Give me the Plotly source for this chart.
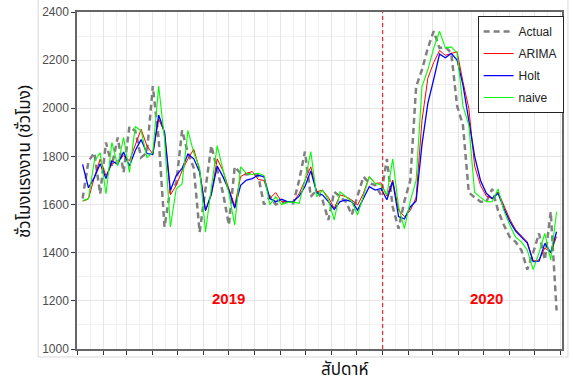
import pandas as pd
import plotly.graph_objects as go

# Weekly labour hours, Jan 2019 - Jul 2020
week_start = "2019-01-07"
n_weeks = 82

actual = [
    1625, 1780, 1815, 1644, 1858, 1761, 1879, 1734, 1924, 1906,
    1796, 1816, 2092, 1872, 1507, 1665, 1687, 1908, 1815, 1752,
    1485, 1670, 1845, 1744, 1647, 1515, 1757, 1730, 1725, 1730,
    1720, 1600, 1633, 1600, 1610, 1610, 1605, 1700, 1820, 1633,
    1660, 1619, 1536, 1653, 1633, 1612, 1557, 1640, 1716, 1688,
    1681, 1640, 1790, 1590, 1500, 1615, 1700, 2090, 2160, 2250,
    2320, 2250, 2255, 2230, 2010, 1930, 1650, 1630, 1612, 1612,
    1665, 1575, 1515, 1465, 1445, 1410, 1330, 1400, 1480, 1370,
    1570, 1160,
]

arima = [
    1614, 1623, 1713, 1789, 1720, 1768, 1782, 1803, 1782, 1851,
    1913, 1844, 1810, 1955, 1900, 1640, 1680, 1740, 1790, 1830,
    1744, 1575, 1640, 1790, 1740, 1665, 1595, 1716, 1730, 1737,
    1705, 1700, 1625, 1650, 1612, 1612, 1612, 1645, 1700, 1757,
    1653, 1660, 1630, 1584, 1640, 1633, 1619, 1598, 1647, 1716,
    1688, 1690, 1635, 1702, 1577, 1550, 1575, 1630, 1950, 2125,
    2190, 2240, 2220, 2228, 2235, 2110, 2000, 1760, 1680, 1635,
    1625, 1653, 1598, 1540, 1495, 1468, 1445, 1365, 1370, 1420,
    1400, 1467,
]

holt = [
    1767, 1670, 1712, 1770, 1708, 1780, 1768, 1818, 1760, 1825,
    1870, 1812, 1808, 1972, 1900, 1660, 1720, 1750, 1810, 1790,
    1735, 1575, 1645, 1760, 1715, 1660, 1585, 1680, 1702, 1708,
    1722, 1715, 1625, 1612, 1622, 1612, 1612, 1635, 1675, 1740,
    1650, 1640, 1612, 1580, 1612, 1619, 1612, 1577, 1626, 1674,
    1660, 1667, 1620, 1695, 1550, 1540, 1590, 1615, 1850, 2020,
    2120, 2225, 2210, 2228, 2200, 2097, 1950, 1800, 1700, 1647,
    1625, 1647, 1584, 1530, 1490, 1465, 1440, 1363, 1365, 1439,
    1400, 1487,
]

naive = [
    1616, 1625, 1780, 1815, 1644, 1858, 1761, 1879, 1734, 1924,
    1906, 1796, 1816, 2092, 1872, 1507, 1665, 1687, 1908, 1815,
    1752, 1485, 1670, 1845, 1744, 1647, 1515, 1757, 1730, 1725,
    1730, 1720, 1600, 1633, 1600, 1610, 1610, 1605, 1700, 1820,
    1633, 1660, 1619, 1536, 1653, 1633, 1612, 1557, 1640, 1716,
    1688, 1681, 1640, 1790, 1590, 1500, 1615, 1700, 2090, 2160,
    2250, 2320, 2250, 2255, 2230, 2010, 1930, 1650, 1630, 1612,
    1612, 1665, 1575, 1515, 1465, 1445, 1410, 1330, 1400, 1480,
    1370, 1570,
]

y_ticks = [1000, 1200, 1400, 1600, 1800, 2000, 2200, 2400]
year_labels = ["2019", "2020"]
year_label_pos = ["2019-06-30", "2020-05-04"]
year_break = "2020-01-01"

weeks = pd.date_range(week_start, periods=n_weeks, freq="7D")

series = [
    ("Actual", actual, dict(color="#808080", width=2.5, dash="6px,4px")),
    ("ARIMA", arima, dict(color="#ff0000", width=1)),
    ("Holt", holt, dict(color="#0000ff", width=1.3)),
    ("naive", naive, dict(color="#00ff00", width=1.1)),
]

fig = go.Figure()
for name, vals, line in series:
    fig.add_trace(go.Scatter(
        x=weeks, y=vals, mode="lines", name=name, line=line,
        legendgroup=name,
    ))

base_font = "Arial, Liberation Sans, sans-serif"
thai_font = "Tahoma, Noto Sans Thai, Noto Sans, DejaVu Sans, sans-serif"

fig.update_layout(
    width=573, height=382,
    margin=dict(l=77, r=9, t=12, b=33),
    paper_bgcolor="white", plot_bgcolor="white",
    font=dict(family=base_font, size=12, color="black"),
    showlegend=True,
    legend=dict(
        x=0.826, y=0.988, xanchor="left", yanchor="top",
        bgcolor="white", bordercolor="#222222", borderwidth=1,
        font=dict(family=base_font, size=12, color="#222222"),
        tracegroupgap=3,
    ),
    xaxis=dict(
        type="date", automargin=False,
        range=["2018-12-31 07:00", "2020-08-02 12:00"],
        tick0="2019-01-01", dtick="M1",
        showticklabels=False,
        ticks="outside", ticklen=4, tickcolor="#333333",
        showgrid=True, gridcolor="#e6e6e6", gridwidth=1,
        minor=dict(tick0="2019-01-16", dtick="M1", showgrid=True,
                   gridcolor="#f0f0f0", gridwidth=1),
        showline=True, linecolor="#666666", linewidth=1.5, mirror=True,
        zeroline=False,
    ),
    yaxis=dict(
        range=[1000, 2400], automargin=False,
        tickvals=y_ticks,
        tickfont=dict(family=base_font, size=12, color="#4d4d4d"),
        ticks="outside", ticklen=4, tickcolor="#333333",
        showgrid=True, gridcolor="#e6e6e6", gridwidth=1,
        minor=dict(dtick=100, showgrid=True, gridcolor="#f0f0f0",
                   gridwidth=1),
        showline=True, linecolor="#666666", linewidth=1.5, mirror=True,
        zeroline=False,
    ),
)

# year boundary
fig.add_shape(type="line", xref="x", yref="paper",
              x0=year_break, x1=year_break, y0=0, y1=1,
              line=dict(color="#ff0000", width=1, dash="4px,3px"))

# light outer frame around the panel
fig.add_shape(type="rect", xref="paper", yref="paper",
              x0=-0.0801, x1=1.0123, y0=-0.0237, y1=1.05,
              line=dict(color="#d9d9d9", width=1), layer="below")

for txt, pos in zip(year_labels, year_label_pos):
    fig.add_annotation(x=pos, y=1210, xref="x", yref="y", text=f"<b>{txt}</b>",
                       showarrow=False,
                       font=dict(family=base_font, size=15, color="#ff0000"))

fig.add_annotation(x=0.553, y=-0.062, xref="paper", yref="paper",
                   xanchor="center", yanchor="middle",
                   text="สัปดาห์", showarrow=False,
                   font=dict(family=thai_font, size=17, color="#111111"))
fig.add_annotation(x=-0.107, y=0.555, xref="paper", yref="paper",
                   xanchor="center", yanchor="middle",
                   text="ชั่วโมงแรงงาน (ชั่วโมง)", showarrow=False, textangle=-90,
                   font=dict(family=thai_font, size=17, color="#111111"))

fig.write_html("out.html")
